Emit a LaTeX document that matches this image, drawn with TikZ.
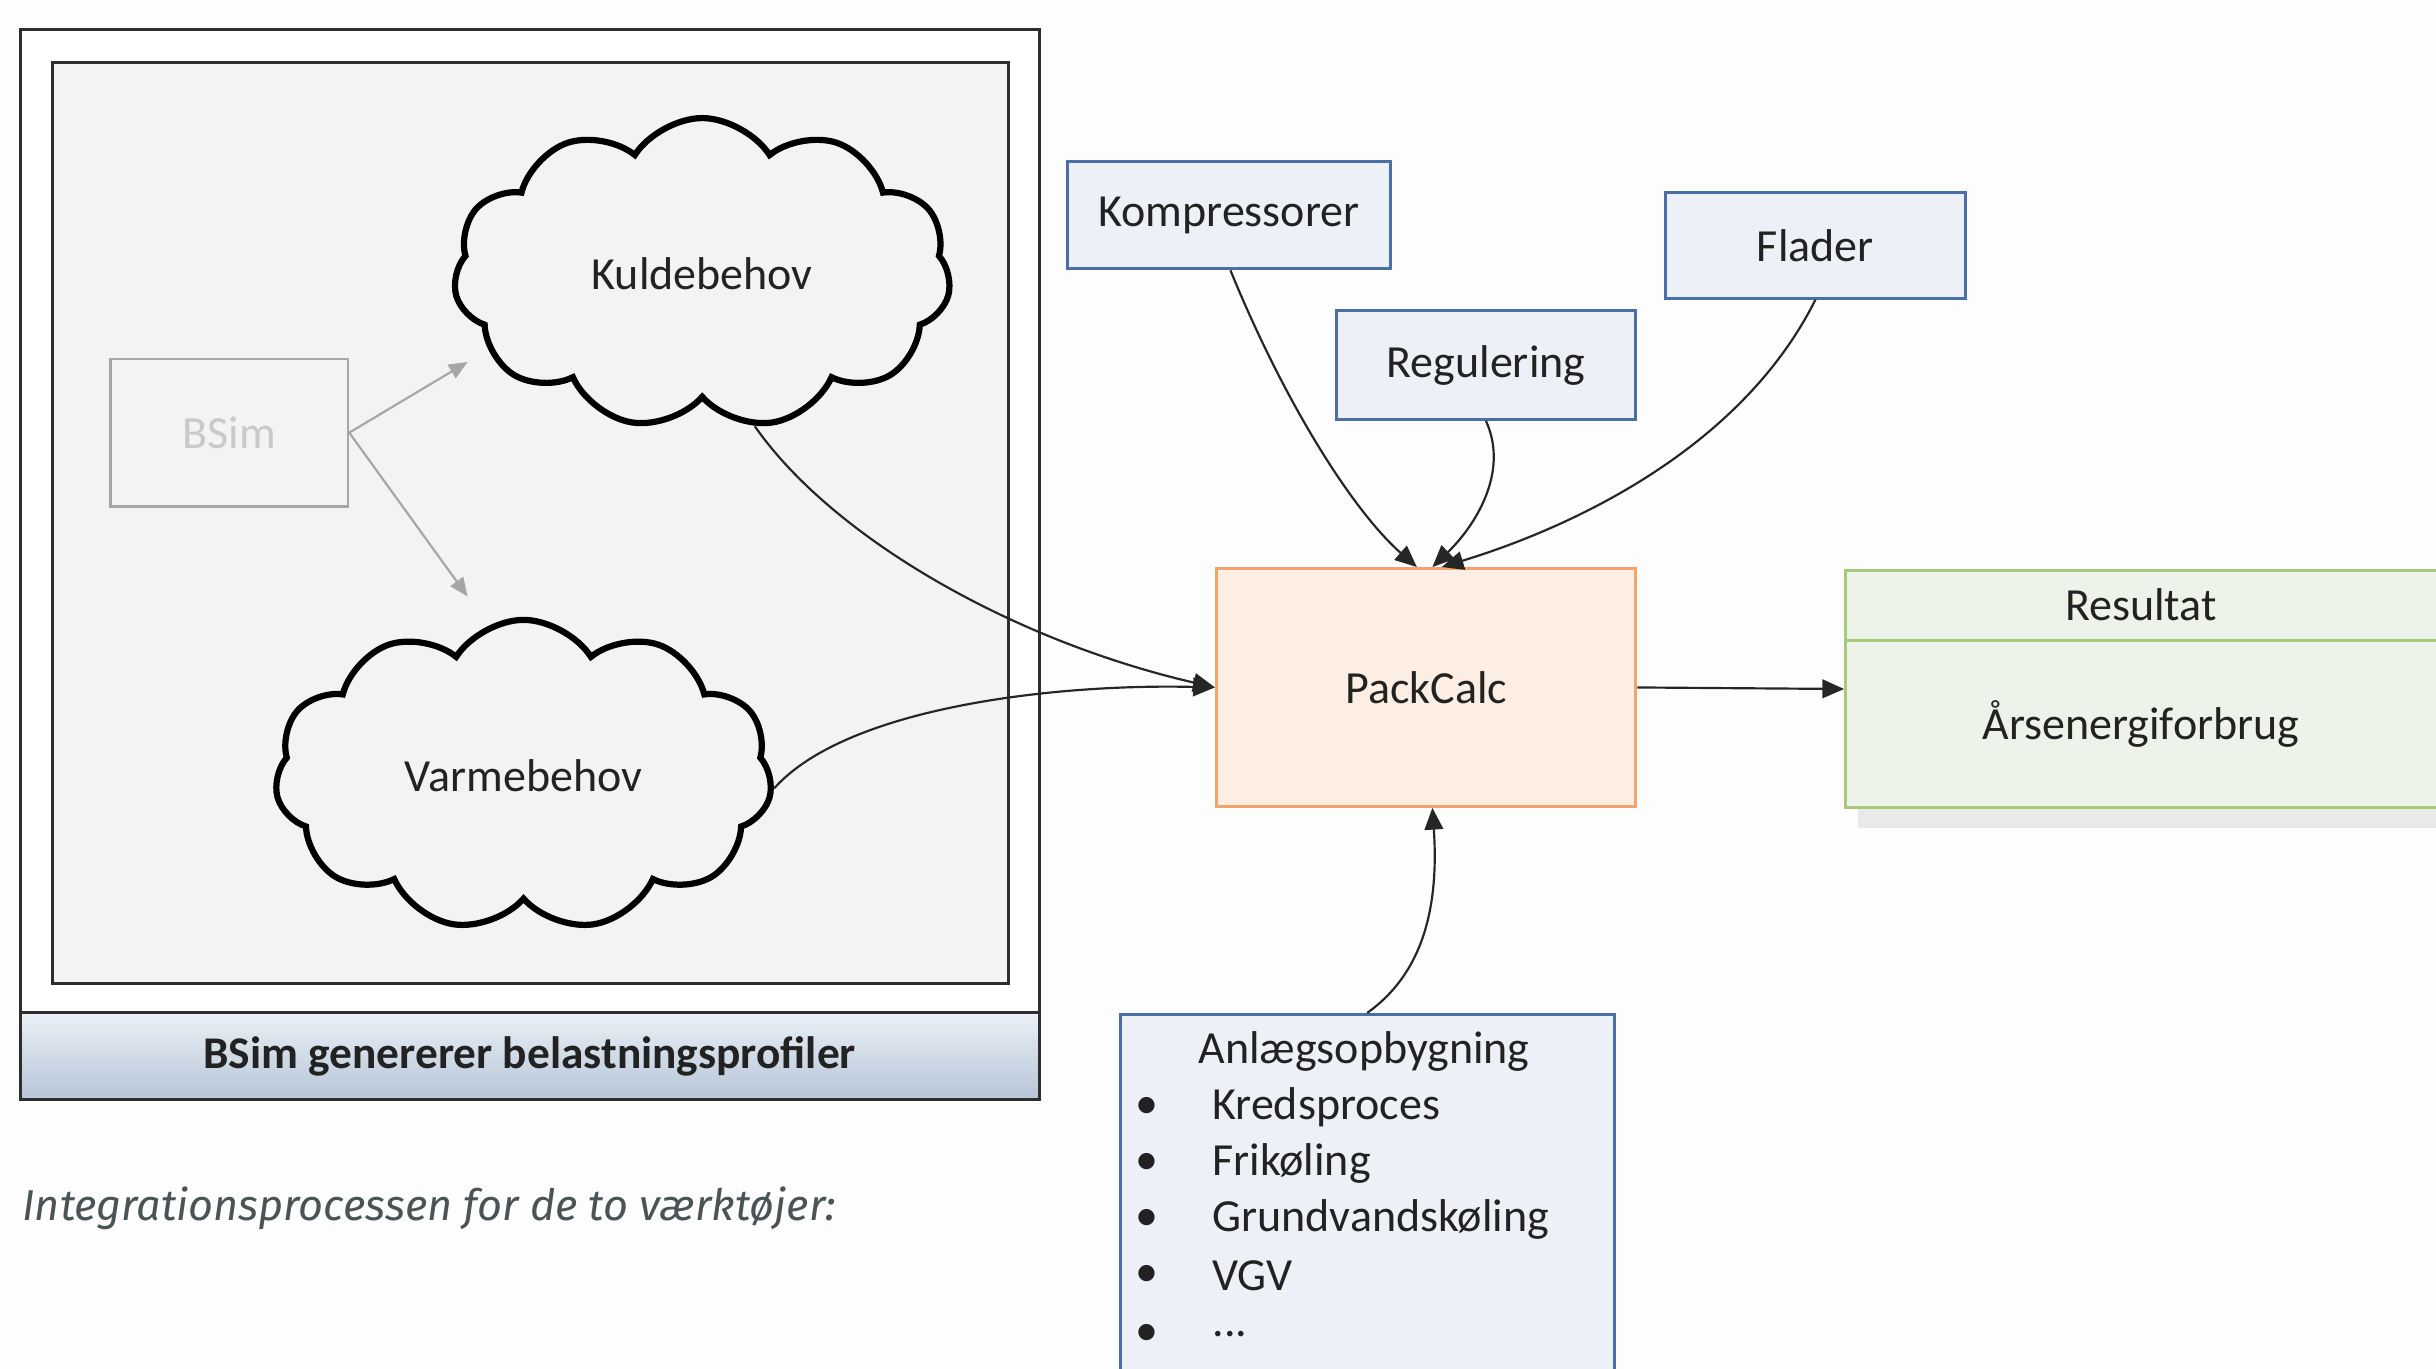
\documentclass[tikz,border=0pt]{standalone}
\usepackage{fontspec}
\setmainfont{Carlito}
\newfontfamily\capfont{Fira Sans}
\usetikzlibrary{shapes.symbols,arrows.meta}
\definecolor{bgwhite}{HTML}{FDFDFD}
\definecolor{framegray}{HTML}{F3F3F3}
\definecolor{frameline}{HTML}{2E2E2E}
\definecolor{bandtop}{HTML}{EAF0F6}
\definecolor{bandbot}{HTML}{B6C5D8}
\definecolor{blueline}{HTML}{4A6FA5}
\definecolor{bluefill}{HTML}{EDF1F7}
\definecolor{orangeline}{HTML}{F4A46A}
\definecolor{orangefill}{HTML}{FDEEE3}
\definecolor{greenline}{HTML}{A9C97F}
\definecolor{greenfill}{HTML}{EEF3E9}
\definecolor{txtgray}{HTML}{222222}
\definecolor{captxt}{HTML}{4A5355}
\definecolor{bsimgray}{HTML}{A6A6A6}
\definecolor{bsimtxt}{HTML}{C9C9C9}
\definecolor{shadowgray}{HTML}{E9E9E9}
\tikzset{
  txt/.style={font=\fontsize{14.8}{18}\selectfont, text=txtgray, inner sep=0pt},
  bluebox/.style={draw=blueline, fill=bluefill, line width=1pt, txt},
  frameline/.style={draw=frameline, line width=1pt},
  cloudnode/.style={cloud, cloud puffs=11, cloud puff arc=115, cloud ignores aspect,
     draw=black, line width=2pt, fill=framegray, txt},
  conn/.style={draw=black!85, line width=0.7pt, -{Triangle[length=7pt,width=6pt]}},
  grayconn/.style={draw=bsimgray, line width=0.7pt, -{Triangle[length=6pt,width=5pt]}},
}
\begin{document}
\begin{tikzpicture}[x=0.5pt,y=-0.5pt]
\useasboundingbox (0,0) rectangle (1568,881);
\clip (0,0) rectangle (1568,881);
\fill[bgwhite] (0,0) rectangle (1568,881);

% left frame
\node[frameline, fill=white, anchor=north west, minimum width=328pt, minimum height=344.5pt, inner sep=0pt] (outer) at (12,18) {};
\node[frameline, top color=bandtop, bottom color=bandbot, anchor=north west, minimum width=328pt, minimum height=28pt, inner sep=0pt, font=\bfseries\fontsize{14.6}{16}\selectfont, text=txtgray] (band) at (12,651) {BSim genererer belastningsprofiler};
\node[frameline, fill=framegray, anchor=north west, minimum width=307.5pt, minimum height=296.5pt, inner sep=0pt] (inner) at (33,39) {};

\node[draw=bsimgray, fill=framegray, line width=0.8pt, minimum width=76.5pt, minimum height=47.5pt, txt, text=bsimtxt] (bsim) at (147.5,278.5) {BSim};

\node[cloudnode, minimum width=160pt, minimum height=100pt] (kulde) at (452,176) {Kuldebehov};
\node[cloudnode, minimum width=160pt, minimum height=100pt] (varme) at (337,499) {Varmebehov};

\coordinate (kt) at (301,233);
\coordinate (vt) at (301,384);
\draw[grayconn] (bsim.east) -- (kt);
\draw[grayconn] (bsim.east) -- (vt);

% right part
\node[bluebox, minimum width=104pt, minimum height=34.5pt] (komp) at (791,138.5) {Kompressorer};
\node[bluebox, minimum width=96.5pt, minimum height=35pt] (reg) at (956.5,235) {Regulering};
\node[bluebox, minimum width=96.5pt, minimum height=34pt] (flad) at (1168.5,158) {Flader};
\node[draw=orangeline, fill=orangefill, line width=1pt, txt, minimum width=135pt, minimum height=76.5pt] (pack) at (918,442.5) {PackCalc};

\fill[shadowgray] (1196,519) rectangle (1580,533);
\node[draw=greenline, fill=greenfill, line width=1pt, anchor=north west, minimum width=196pt, minimum height=76.5pt, inner sep=0pt] (res) at (1187,366) {};
\draw[draw=greenline, line width=1pt] (1187,412) -- (1580,412);
\node[txt] (restitle) at (1378,389) {Resultat};
\node[txt] (resval) at (1378,466) {Årsenergiforbrug};

\node[bluebox, anchor=north, minimum width=159pt, minimum height=130pt] (anl) at (880,652) {};
\node[txt] (anltitle) at (878,677) {Anlægsopbygning};
\foreach \y/\t [count=\i] in {713/Kredsproces, 749/Frikøling, 785/Grundvandskøling, 821/VGV}{
  \node[txt] (b\i) at (738,\y) {\textbullet};
  \node[txt, anchor=west] (item\i) at (780,\y) {\t};
}
\node[txt] (b5) at (738,859) {\textbullet};
\node[txt, anchor=west] (item5) at (780,859) {...};

% connectors
\draw[conn] (kulde.-71) .. controls (535,345) and (650,412) .. (pack.west);
\draw[conn] (varme.-3) .. controls (545,455) and (680,440) .. (pack.west);
\draw[conn] ([xshift=0.5pt]komp.south) .. controls (828,262) and (872,330) .. ([xshift=-3pt]pack.north);
\draw[conn] (reg.south) .. controls (972,305) and (948,340) .. ([xshift=2pt]pack.north);
\draw[conn] (flad.south) .. controls (1120,290) and (1010,340) .. ([xshift=5pt]pack.north);
\draw[conn] (pack.east) -- (res.west);
\draw[conn] (anl.north) .. controls (918,625) and (926,580) .. ([xshift=2pt]pack.south);

% caption
\node[font=\capfont\itshape\fontsize{13.9}{16}\selectfont, text=captxt, anchor=west, inner sep=0pt] (cap) at (14,778) {Integrationsprocessen for de to værktøjer:};
\end{tikzpicture}
\end{document}
